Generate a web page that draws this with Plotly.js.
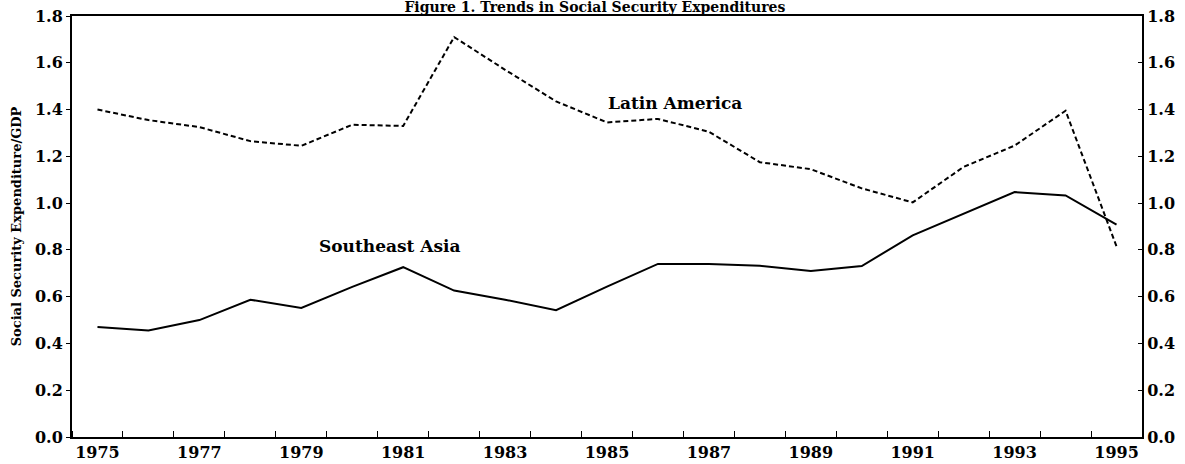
<!DOCTYPE html>
<html>
<head>
<meta charset="utf-8">
<script src="https://cdn.plot.ly/plotly-3.0.1.min.js"></script>
<style>html,body{margin:0;padding:0;background:#fff;}#chart{width:1185px;height:464px;}</style>
</head>
<body>
<div id="chart"></div>
<script>
var years = [1975,1976,1977,1978,1979,1980,1981,1982,1983,1984,1985,1986,1987,1988,1989,1990,1991,1992,1993,1994,1995];
var latinAmerica = [1.40,1.355,1.325,1.265,1.245,1.335,1.33,1.71,1.57,1.435,1.345,1.36,1.305,1.175,1.145,1.063,1.003,1.155,1.246,1.395,0.815];
var southeastAsia = [0.47,0.455,0.50,0.587,0.552,0.642,0.726,0.626,0.587,0.542,0.643,0.74,0.74,0.732,0.71,0.731,0.862,0.955,1.047,1.033,0.908];
var xTickVals = [1975,1977,1979,1981,1983,1985,1987,1989,1991,1993,1995];
var xTickText = ['1975','1977','1979','1981','1983','1985','1987','1989','1991','1993','1995'];
var yTickVals = [0,0.2,0.4,0.6,0.8,1.0,1.2,1.4,1.6,1.8];
var yTickText = ['0.0','0.2','0.4','0.6','0.8','1.0','1.2','1.4','1.6','1.8'];

var F = 'DejaVu Serif';
var traces = [
  {x: years, y: latinAmerica, name: 'Latin America', mode: 'lines', yaxis: 'y',
   line: {color: '#000', width: 2, dash: '5px,3px'}},
  {x: years, y: southeastAsia, name: 'Southeast Asia', mode: 'lines', yaxis: 'y2',
   line: {color: '#000', width: 2}}
];
var layout = {
  width: 1185, height: 464,
  margin: {l: 72, r: 43, t: 16, b: 27},
  paper_bgcolor: '#fff', plot_bgcolor: '#fff',
  showlegend: false,
  font: {family: F, color: '#000'},
  title: {text: '<b>Figure 1. Trends in Social Security Expenditures</b>',
          font: {family: F, size: 14, color: '#000'},
          x: 0.502, xanchor: 'center', y: 0.984, yanchor: 'middle', yref: 'container'},
  xaxis: {range: [1974.5, 1995.5], tickmode: 'array', tickvals: xTickVals, ticktext: xTickText,
          ticks: '', showgrid: false, zeroline: false,
          showline: true, linecolor: '#000', linewidth: 2, mirror: true,
          tickfont: {family: F, size: 16, color: '#000', weight: 'bold'},
          minor: {ticks: 'inside', ticklen: 6, tickwidth: 1, tickcolor: '#000', tick0: 1975.5, dtick: 1, showgrid: false}},
  yaxis: {range: [0, 1.8], tickmode: 'array', tickvals: yTickVals, ticktext: yTickText,
          ticks: 'outside', ticklen: 4, tickwidth: 1, tickcolor: '#000',
          showgrid: false, zeroline: false, showline: true, linecolor: '#000', linewidth: 2,
          tickfont: {family: F, size: 16, color: '#000', weight: 'bold'},
          title: {text: '<b>Social Security Expenditure/GDP</b>', font: {family: F, size: 13, color: '#000'}, standoff: 10}},
  yaxis2: {range: [0, 1.8], overlaying: 'y', side: 'right', tickmode: 'array', tickvals: yTickVals, ticktext: yTickText,
          ticks: 'inside', ticklen: 4, tickwidth: 1, tickcolor: '#000',
          showgrid: false, zeroline: false, showline: true, linecolor: '#000', linewidth: 2,
          tickfont: {family: F, size: 16, color: '#000', weight: 'bold'}},
  annotations: [
    {x: 1980.75, y: 0.815, xref: 'x', yref: 'y', text: '<b>Southeast Asia</b>', showarrow: false,
     font: {family: F, size: 17, color: '#000'}},
    {x: 1986.33, y: 1.43, xref: 'x', yref: 'y', text: '<b>Latin America</b>', showarrow: false,
     font: {family: F, size: 17, color: '#000'}}
  ]
};
Plotly.newPlot('chart', traces, layout, {displayModeBar: false, staticPlot: true});
</script>
</body>
</html>
